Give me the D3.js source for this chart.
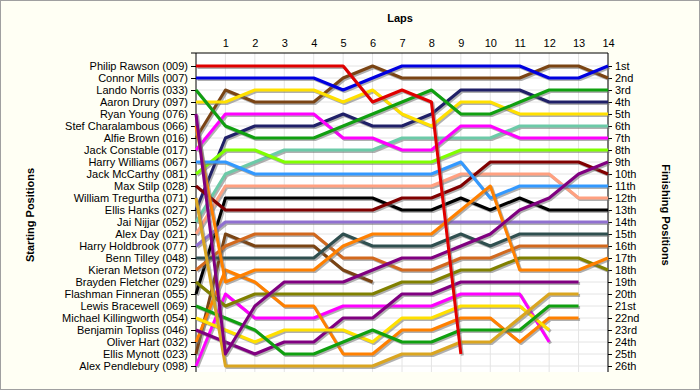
<!DOCTYPE html>
<html>
<head>
<meta charset="utf-8">
<script src="https://cdn.jsdelivr.net/npm/d3@7/dist/d3.min.js"></script>
<style>
  body { margin: 0; background: #fffff4; }
  svg { display: block; font-family: "Liberation Sans", Arial, sans-serif; }
</style>
</head>
<body>
<svg width="700" height="390"></svg>
<script>
// starting grid, in order
var drivers = ["Philip Rawson (009)", "Connor Mills (007)", "Lando Norris (033)", "Aaron Drury (097)",
  "Ryan Young (076)", "Stef Charalambous (066)", "Alfie Brown (016)", "Jack Constable (017)",
  "Harry Williams (067)", "Jack McCarthy (081)", "Max Stilp (028)", "William Tregurtha (071)",
  "Ellis Hanks (027)", "Jai Nijjar (052)", "Alex Day (021)", "Harry Holdbrook (077)",
  "Benn Tilley (048)", "Kieran Metson (072)", "Brayden Fletcher (029)", "Flashman Finneran (055)",
  "Lewis Bracewell (069)", "Michael Killingworth (054)", "Benjamin Topliss (046)", "Oliver Hart (032)",
  "Ellis Mynott (023)", "Alex Pendlebury (098)"];

var lineColors = ["#e00000", "#0000e0", "#10a010", "#ffe000", "#800080", "#ff8000", "#7a4414", "#ff00ff",
  "#3399ff", "#80ff00", "#800000", "#daa520", "#202068", "#6ccaa8", "#ffa080", "#9070d0",
  "#2f4f4f", "#d2691e", "#808000", "#000000", "#10a010", "#ffe000", "#800080", "#ff8000",
  "#7a4414", "#ff00ff"];

var laps = [1, 2, 3, 4, 5, 6, 7, 8, 9, 10, 11, 12, 13, 14];

var finishLabels = ["1st", "2nd", "3rd", "4th", "5th", "6th", "7th", "8th", "9th", "10th", "11th", "12th",
  "13th", "14th", "15th", "16th", "17th", "18th", "19th", "20th", "21st", "22nd", "23rd", "24th", "25th", "26th"];

// position at lap 0..14 (null = not running)
var p009 = [1, 1, 1, 1, 1, 1, 4, 3, 4, 25, null, null, null, null, null];
var p007 = [2, 2, 2, 2, 2, 3, 2, 1, 1, 1, 1, 1, 2, 2, 1];
var p033 = [3, 6, 7, 7, 7, 6, 5, 4, 3, 5, 5, 4, 3, 3, 3];
var p097 = [4, 4, 3, 3, 3, 4, 3, 5, 6, 4, 4, 5, 5, 5, 5];
var p076 = [5, 25, 21, 19, 19, 19, 18, 17, 17, 16, 15, 13, 12, 10, 9];
var p066 = [6, 19, 18, 18, 18, 16, 15, 15, 15, 13, 11, 18, 18, 18, 17];
var p016 = [7, 3, 4, 4, 4, 2, 1, 2, 2, 2, 2, 2, 1, 1, 2];
var p017 = [8, 5, 5, 5, 5, 7, 7, 8, 8, 6, 6, 7, 7, 7, 7];
var p067 = [9, 9, 10, 10, 10, 10, 10, 10, 10, 9, 12, 11, 11, 11, 11];
var p081 = [10, 8, 8, 9, 9, 9, 9, 9, 9, 8, 8, 8, 8, 8, 8];
var p028 = [11, 13, 13, 13, 13, 13, 13, 12, 12, 11, 9, 9, 9, 9, 10];
var p071 = [12, 26, 26, 26, 26, 26, 26, 25, 25, 24, 24, 22, 20, 20, null];
var p027 = [13, 7, 6, 6, 6, 5, 6, 6, 5, 3, 3, 3, 4, 4, 4];
var p052 = [14, 10, 9, 8, 8, 8, 8, 7, 7, 7, 7, 6, 6, 6, 6];
var p021 = [15, 11, 11, 11, 11, 11, 11, 11, 11, 10, 10, 10, 10, 12, 12];
var p077 = [16, 14, 14, 14, 14, 14, 14, 14, 14, 14, 14, 14, 14, 14, 14];
var p048 = [17, 17, 17, 17, 17, 15, 16, 16, 16, 15, 16, 15, 15, 15, 15];
var p072 = [18, 16, 15, 15, 15, 17, 17, 18, 18, 17, 17, 16, 16, 16, 16];
var p029 = [19, 21, 20, 20, 20, 20, 20, 19, 19, 18, 18, 17, 17, 17, 18];
var p055 = [20, 12, 12, 12, 12, 12, 12, 13, 13, 12, 13, 12, 13, 13, 13];
var p069 = [21, 22, 23, 25, 25, 24, 23, 24, 24, 23, 23, 23, 21, 21, null];
var p054 = [22, 23, 24, 23, 23, 23, 24, 22, 22, 21, 21, 21, 23, null, null];
var p046 = [23, 24, 25, 24, 24, 22, 22, 20, 20, 19, 19, 19, 19, 19, null];
var p032 = [24, 18, 19, 21, 21, 25, 25, 23, 23, 22, 22, 24, 22, 22, null];
var p023 = [25, 15, 16, 16, 16, 18, 19, null, null, null, null, null, null, null, null];
var p098 = [26, 20, 22, 22, 22, 21, 21, 21, 21, 20, 20, 20, 24, null, null];

var series = [p009, p007, p033, p097, p076, p066, p016, p017, p067, p081, p028, p071, p027,
  p052, p021, p077, p048, p072, p029, p055, p069, p054, p046, p032, p023, p098];

var svg = d3.select("svg");
var plotLeft = 196, plotRight = 608, plotTop = 53, plotBottom = 372;

var x = d3.scaleLinear().domain([0, 14]).range([plotLeft, plotRight]);
var y = d3.scaleLinear().domain([1, 26]).range([66, 366]);
var rows = d3.range(1, 27);

svg.append("rect").attr("x", 0.5).attr("y", 0.5).attr("width", 699).attr("height", 389)
  .attr("fill", "#fffff4").attr("stroke", "#a0a0a0");

svg.append("rect").attr("x", plotLeft).attr("y", plotTop)
  .attr("width", plotRight - plotLeft).attr("height", plotBottom - plotTop)
  .attr("fill", "#ffffff");

// grid
svg.append("g").selectAll("line").data(rows).enter().append("line")
  .attr("x1", plotLeft).attr("x2", plotRight)
  .attr("y1", function(d) { return y(d); }).attr("y2", function(d) { return y(d); })
  .attr("stroke", "#e4e4e4");
svg.append("g").selectAll("line").data(laps).enter().append("line")
  .attr("x1", function(d) { return x(d); }).attr("x2", function(d) { return x(d); })
  .attr("y1", plotTop).attr("y2", plotBottom)
  .attr("stroke", "#e4e4e4");

// axes
var leftAxis = d3.axisLeft(y).tickValues(rows).tickSize(5).tickFormat(function(d) { return drivers[d - 1]; });
svg.append("g").attr("transform", "translate(" + plotLeft + ",0)").call(leftAxis)
  .call(function(g) { g.select(".domain").attr("d", "M0," + plotTop + "V" + plotBottom); });

var rightAxis = d3.axisRight(y).tickValues(rows).tickSize(4).tickFormat(function(d) { return finishLabels[d - 1]; });
svg.append("g").attr("transform", "translate(" + plotRight + ",0)").call(rightAxis)
  .call(function(g) { g.select(".domain").attr("d", "M0," + plotTop + "V" + plotBottom); });

var topAxis = d3.axisTop(x).tickValues(laps).tickSize(0).tickPadding(6);
svg.append("g").attr("transform", "translate(0," + plotTop + ")").call(topAxis)
  .call(function(g) { g.select(".domain").attr("d", "M" + (plotLeft - 5) + ",0H" + plotRight); });

svg.selectAll(".tick text").attr("font-size", 11).attr("fill", "#000")
  .attr("font-family", "'Liberation Sans', Arial, sans-serif");
svg.selectAll(".domain, .tick line").attr("stroke", "#000");

// race lines
var line = d3.line()
  .defined(function(d) { return d != null; })
  .x(function(d, i) { return x(i); })
  .y(function(d) { return y(d); });

var lines = svg.append("g");
for (var i = series.length - 1; i >= 0; i--) {
  lines.append("path").attr("d", line(series[i]))
    .attr("transform", "translate(1.5,1.5)")
    .attr("fill", "none").attr("stroke", "#707070").attr("stroke-opacity", 0.55)
    .attr("stroke-width", 3).attr("stroke-linejoin", "round");
  lines.append("path").attr("d", line(series[i]))
    .attr("fill", "none").attr("stroke", lineColors[i])
    .attr("stroke-width", 3).attr("stroke-linejoin", "round");
}

// titles
svg.append("text").attr("x", 400).attr("y", 22).attr("text-anchor", "middle")
  .attr("font-size", 11).attr("font-weight", "bold").text("Laps");
svg.append("text").attr("transform", "translate(34,215) rotate(-90)").attr("text-anchor", "middle")
  .attr("font-size", 11).attr("font-weight", "bold").text("Starting Positions");
svg.append("text").attr("transform", "translate(662,215) rotate(90)").attr("text-anchor", "middle")
  .attr("font-size", 11).attr("font-weight", "bold").text("Finishing Positions");
</script>
</body>
</html>
